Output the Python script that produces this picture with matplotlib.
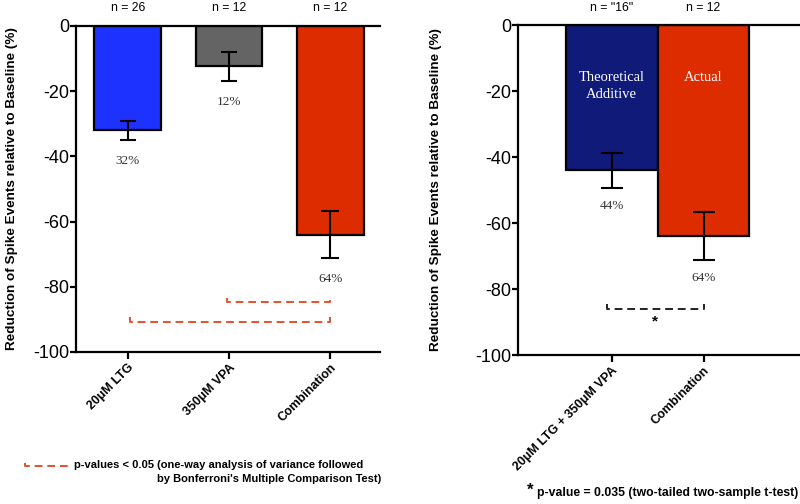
import matplotlib
matplotlib.use("Agg")
import matplotlib.pyplot as plt

# Left panel data
left_cats = ["20μM LTG", "350μM VPA", "Combination"]
left_means = [-32, -12.4, -64]
left_errs = [2.9, 4.5, 7.2]
left_n = ["n = 26", "n = 12", "n = 12"]
left_pct = ["32%", "12%", "64%"]
left_colors = ["#1e32ff", "#646464", "#dd2c00"]

# Right panel data
right_cats = ["20μM LTG + 350μM VPA", "Combination"]
right_means = [-44, -64]
right_errs = [5.3, 7.2]
right_n = ['n = "16"', "n = 12"]
right_pct = ["44%", "64%"]
right_inbar = ["Theoretical\nAdditive", "Actual"]
right_colors = ["#101a78", "#dd2c00"]

yticks = [0, -20, -40, -60, -80, -100]
ylabel = "Reduction of Spike Events relative to Baseline (%)"

SANS = ["Liberation Sans", "DejaVu Sans"]
SERIF = ["Liberation Serif", "DejaVu Serif"]
RED = "#e8502a"

fig = plt.figure(figsize=(8, 5.04), dpi=100)
W, H = 800, 504


def make_ax(l, r, t, b):
    return fig.add_axes([l / W, 1 - b / H, (r - l) / W, (b - t) / H])


def style(ax, labelpad):
    for s in ["left", "top", "bottom"]:
        ax.spines[s].set_linewidth(1.6)
    ax.spines["right"].set_visible(False)
    ax.set_ylim(-100, 0)
    ax.set_yticks(yticks)
    ax.set_yticklabels([str(v) for v in yticks], fontsize=13, family=SANS)
    ax.tick_params(axis="y", length=4, width=1.6, pad=0.5)
    ax.tick_params(axis="x", length=5, width=1.6, pad=2)
    ax.set_ylabel(ylabel, fontsize=9.7, fontweight="bold", family=SANS, labelpad=labelpad)


def bracket(ax, x0, x1, y, color, h=1.5):
    ax.plot([x0, x0, x1, x1], [y + h, y, y, y + h], ls=(0, (4, 2.5)), color=color, lw=1.4)


# ---- Left panel ----
ax1 = make_ax(76, 380, 26, 352)
x1 = list(range(len(left_cats)))
ax1.bar(x1, left_means, width=0.66, color=left_colors, edgecolor="black", linewidth=1.6, zorder=2)
for xi, m, e, cs in zip(x1, left_means, left_errs, [6, 6, 6.5]):
    ax1.errorbar([xi], [m], yerr=[e], fmt="none", ecolor="black", elinewidth=1.5,
                 capsize=cs, capthick=1.5, zorder=3)
ax1.set_xlim(-0.51, 2.49)
style(ax1, 11)
ax1.set_xticks(x1)
ax1.set_xticklabels(left_cats, rotation=45, ha="right", rotation_mode="anchor",
                    fontsize=9, fontweight="bold", family=SANS)
for xi, m, e, n, p in zip(x1, left_means, left_errs, left_n, left_pct):
    ax1.text(xi, 5.4, n, ha="center", va="center", fontsize=8.8, family=SANS, clip_on=False)
    ax1.text(xi, m - e - 6.5, p, ha="center", va="center", fontsize=9.5, family=SERIF,
             color="#333333")
bracket(ax1, 0.98, 2.0, -84.8, RED)
bracket(ax1, 0.02, 2.0, -90.7, RED)

# legend for left
fig.lines.append(plt.Line2D([25 / W, 25 / W, 67 / W, 67 / W],
                            [1 - 463 / H, 1 - 466 / H, 1 - 466 / H, 1 - 463 / H],
                            ls=(0, (4, 2.5)), color=RED, lw=1.4, transform=fig.transFigure))
fig.text(74 / W, 1 - 465 / H, "p-values < 0.05 (one-way analysis of variance followed",
         ha="left", va="center", fontsize=8, fontweight="bold", family=SANS)
fig.text(381 / W, 1 - 479 / H, "by Bonferroni's Multiple Comparison Test)",
         ha="right", va="center", fontsize=8, fontweight="bold", family=SANS)

# ---- Right panel ----
ax2 = make_ax(518, 800, 25, 355)
x2 = list(range(len(right_cats)))
ax2.bar(x2, right_means, width=1.0, color=right_colors, edgecolor="black", linewidth=1.6, zorder=2)
for xi, m, e in zip(x2, right_means, right_errs):
    ax2.errorbar([xi], [m], yerr=[e], fmt="none", ecolor="black", elinewidth=1.5,
                 capsize=8, capthick=1.5, zorder=3)
ax2.set_xlim(-1.02, 2.05)
style(ax2, 24)
ax2.set_xticks(x2)
ax2.set_xticklabels(right_cats, rotation=45, ha="right", rotation_mode="anchor",
                    fontsize=9, fontweight="bold", family=SANS)
for xi, m, e, n, p, lab in zip(x2, right_means, right_errs, right_n, right_pct, right_inbar):
    ax2.text(xi, 5.2, n, ha="center", va="center", fontsize=8.8, family=SANS, clip_on=False)
    ax2.text(xi, m - e - 5.5, p, ha="center", va="center", fontsize=9.5, family=SERIF, color="#333333")
    ax2.text(xi, -18.5 if "\n" in lab else -16, lab, ha="center", va="center", fontsize=10.5,
             family=SERIF, color="white", linespacing=1.35)
bracket(ax2, -0.05, 1.0, -86, "#222222")
ax2.text(0.47, -89.8, "*", ha="center", va="center", fontsize=11, fontweight="bold", family=SANS)

fig.text(798 / W, 1 - 493 / H, "p-value = 0.035 (two-tailed two-sample t-test)",
         ha="right", va="center", fontsize=8.85, fontweight="bold", family=SANS)
fig.text(530 / W, 1 - 490 / H, "*", ha="center", va="center", fontsize=12, fontweight="bold", family=SANS)

fig.savefig("out.png", dpi=100)
